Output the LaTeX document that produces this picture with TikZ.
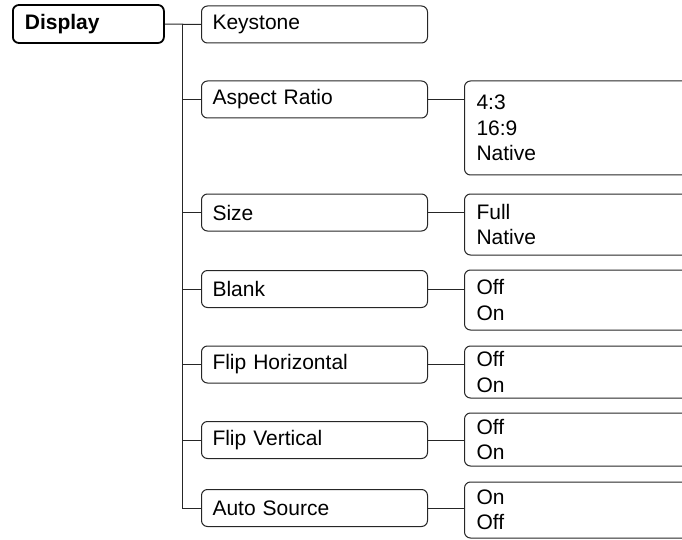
\documentclass[tikz,border=0pt]{standalone}
\usepackage{fontspec}
\setmainfont{Liberation Sans}

\begin{document}
\begin{tikzpicture}[x=1pt,y=-1pt,every node/.style={font=\fontsize{21}{25.5}\selectfont},
    menubox/.style={draw=black!85,line width=1pt,rounded corners=6pt,anchor=west,align=left,inner ysep=0pt},
    topbox/.style={menubox,draw=black,line width=1.8pt,font=\fontsize{21}{25.5}\selectfont\bfseries,
      inner xsep=12pt,text width=127pt,minimum height=38pt},
    itembox/.style={menubox,inner xsep=11pt,text width=204pt,minimum height=37pt},
    optbox/.style={menubox,inner xsep=12pt,text width=250pt},
    link/.style={draw=black!85,line width=1pt}]
    % page frame, right edge of the option boxes is cut off
    \path[use as bounding box,clip] (0,0) rectangle (682,540);
    % root and first entry
    \node[topbox] (disp) at (12,24) {Display};
    \node[itembox] (key) at (201,24.5) {Keystone};
    \coordinate (trunk) at (182,24.5);
    \draw[link] (disp.east) -- (key.west);
    % menu entries with their option lists
    \foreach \nm/\txt/\y/\opts/\oy/\oh in {
      asp/Aspect Ratio/99.5/{4:3\\16:9\\Native}/128/94,
      size/Size/212.5/{Full\\Native}/224.5/61,
      blank/Blank/289/{Off\\On}/300/60,
      fliph/Flip Horizontal/364.5/{Off\\On}/372/52,
      flipv/Flip Vertical/440/{Off\\On}/439.5/53,
      auto/Auto Source/508/{On\\Off}/510/56}
    {
      \node[itembox] (\nm) at (201,\y) {\txt};
      \node[optbox,minimum height=\oh pt] (\nm-opt) at (464,\oy) {\opts};
      \draw[link] (\nm.east) -- (\nm.east -| \nm-opt.west);
      \draw[link] (trunk |- \nm.west) -- (\nm.west);
    }
    % vertical trunk
    \draw[link] (trunk) -- (trunk |- auto.west);
\end{tikzpicture}
\end{document}
